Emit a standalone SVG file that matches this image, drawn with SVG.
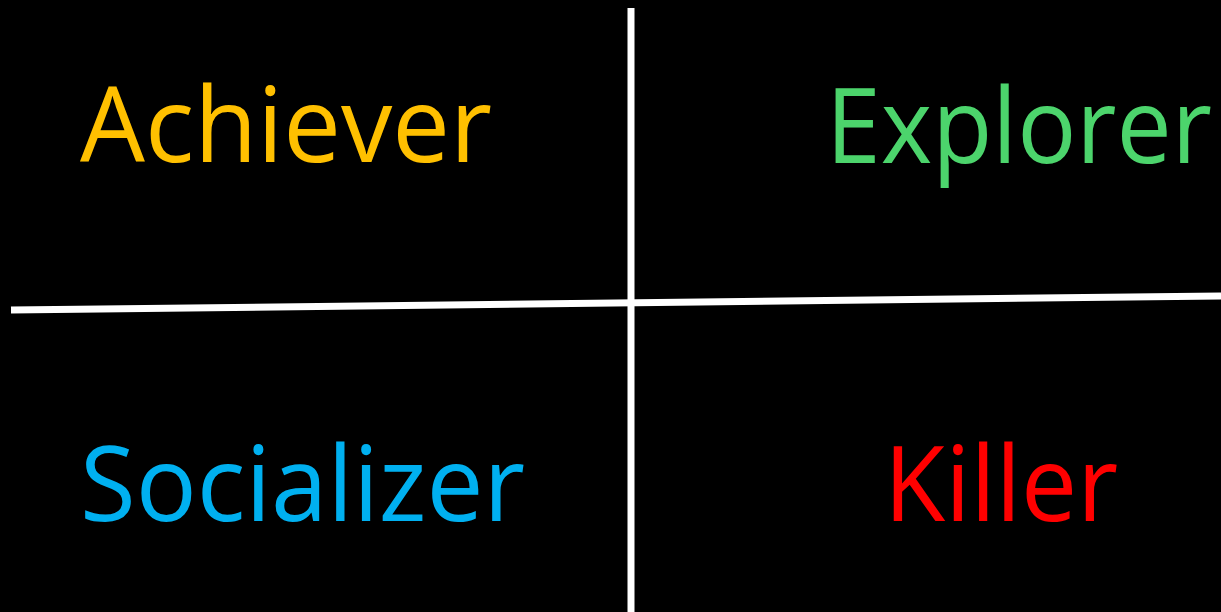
<svg xmlns="http://www.w3.org/2000/svg" width="1221" height="612" viewBox="0 0 1221 612">
<style>
.lbl{font-family:"Open Sans","Noto Sans","Liberation Sans",sans-serif;font-size:104px;}
.ax{stroke:#FFFFFF;stroke-width:7;fill:none;}
</style>
<rect x="0" y="0" width="1221" height="612" fill="#000000"/>
<g id="connectors">
<line class="ax" x1="631" y1="8" x2="631" y2="612"/>
<line class="ax" x1="11" y1="310" x2="1221" y2="296"/>
</g>
<g id="achiever"><text class="lbl" x="80" y="162" fill="#FFC000" textLength="412" lengthAdjust="spacingAndGlyphs">Achiever</text></g>
<g id="explorer"><text class="lbl" x="826" y="163" fill="#4CD46C" textLength="386" lengthAdjust="spacingAndGlyphs">Explorer</text></g>
<g id="socializer"><text class="lbl" x="80" y="521" fill="#00B0F0" textLength="445" lengthAdjust="spacingAndGlyphs">Socializer</text></g>
<g id="killer"><text class="lbl" x="884" y="521" fill="#FF0000" textLength="234" lengthAdjust="spacingAndGlyphs">Killer</text></g>
</svg>
